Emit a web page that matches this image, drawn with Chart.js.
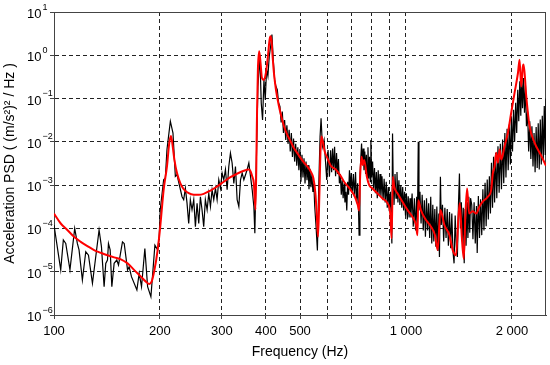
<!DOCTYPE html>
<html>
<head>
<meta charset="utf-8">
<script src="https://cdn.jsdelivr.net/npm/chart.js@4.4.1/dist/chart.umd.min.js"></script>
<style>
  body { margin: 0; background: #fff; }
  #wrap { width: 550px; height: 365px; }
</style>
</head>
<body>
<div id="wrap"><canvas id="psdChart"></canvas></div>
<script>
// measured PSD (black, noisy)
const measFreq = [
  100, 104.5, 106.3, 108, 111, 114.5, 116.5, 117.8, 120.4, 123.1, 125.3, 128.6, 134.3, 136.4, 138.8, 140.3,
  141.9, 142.8, 144.4, 146, 148.2, 150.8, 152.5, 156.5, 158.3, 161.8, 163.5, 166, 172, 174.6, 177.3, 181.2,
  184.5, 188.5, 193.5, 197, 199,
  200.4, 204.9, 207.2, 209.4, 214.1, 217.8, 221.2, 223.6, 227.6, 231.1, 233.6, 236.2, 238.8, 241.4, 244, 246.7,
  249.5, 252.2, 255, 257.8, 260.6, 263.4, 266.3, 269.2, 272.3, 275.3, 278.3, 281.3, 284.4, 287.6, 290.7, 293.9,
  297.1, 300.4, 303.7, 307, 310.4, 313.8, 317.2, 320.7, 324.3, 327.8, 331.4, 335.1, 338.8, 342.5, 346.3, 350.1,
  353.9, 357.8, 361.7, 365.7, 369.7,
  372.1, 379.6, 384.6, 388, 391.4, 394.9, 398.3, 401.8, 405.3, 408.9, 412.5, 416.1, 419.8, 423.5, 427.2, 431,
  434.8, 438.5, 441.9, 445.3, 448.7, 452.1, 455.5, 458.9, 462.3, 465.7, 469.1, 472.5, 475.9, 479.3, 482.7, 486.1,
  489.5, 492.9, 496.3, 499.7, 503.1, 506.5, 509.9, 513.3, 516.7, 520.1, 523.5, 526.9, 530.3, 533.7, 537.1, 540.5,
  543.9, 547.3, 550.6, 555.4, 560.3, 565.2, 570.2, 573.9, 579, 585.3, 590.4, 595.6, 600.8, 606.1,
  611, 615, 619, 623, 627, 631, 635, 639, 643, 647, 651, 655, 659, 663, 667, 671,
  675, 679, 683, 687, 691, 695, 699, 704, 709, 714, 719, 724, 729, 733, 736, 740,
  744, 748, 752, 756, 760, 764, 768, 772, 776, 780, 784, 788, 792, 795, 799, 804,
  809, 814, 819, 824, 829, 834, 839, 844, 849, 855, 861, 867, 873, 879, 885, 891,
  897, 903, 908, 912, 916, 920, 925, 931, 937, 943, 949, 955, 961, 967, 973, 979,
  985, 991, 997, 1003, 1009, 1015, 1021, 1027,
  1033, 1041, 1049, 1057, 1065, 1073, 1078, 1084, 1089, 1096, 1104, 1112, 1120, 1128, 1136, 1144,
  1152, 1160, 1168, 1176, 1184, 1192, 1200, 1208, 1216, 1224, 1232, 1240, 1245, 1253, 1260, 1270,
  1280, 1290, 1300, 1310, 1320, 1330, 1340, 1350, 1360, 1370, 1380, 1390, 1400, 1410, 1419, 1428,
  1437, 1446, 1455, 1464, 1473, 1482, 1491, 1500, 1509, 1518, 1526,
  1538, 1550, 1562, 1574, 1586, 1594, 1606, 1618, 1630, 1642, 1654, 1666, 1678, 1690, 1702, 1714,
  1726, 1738, 1750, 1762, 1774, 1786, 1798, 1812, 1826, 1840, 1854, 1868, 1882, 1896, 1910, 1924,
  1938, 1952, 1966, 1980, 1994, 2008, 2022, 2036, 2050, 2064, 2078, 2092, 2106, 2120, 2130, 2144,
  2158, 2172, 2186, 2200, 2216, 2232, 2248, 2264, 2280, 2296, 2312, 2328, 2344, 2360, 2376, 2392,
  2408, 2424, 2440, 2456, 2472, 2488, 2500
];
const measPsd = [
  1.2e-4, 1.1e-5, 5.4e-5, 4.5e-5, 1.1e-5, 1.0e-4, 4.5e-5, 3.2e-5, 6.4e-6, 2.9e-5, 2.4e-5, 5.4e-6, 9.2e-5, 3.8e-5, 4.5e-6, 1.56e-5,
  1.86e-5, 4.5e-5, 3.2e-5, 4.5e-6, 1.56e-5, 1.86e-5, 1.43e-5, 4.9e-5, 4.5e-5, 1.1e-5, 1.3e-5, 7.7e-6, 3.8e-6, 9.2e-6, 4.5e-6, 3.45e-5,
  4.5e-6, 2.65e-6, 4.1e-5, 3.2e-5, 6.4e-5,
  2.7e-4, 1.33e-3, 1.46e-3, 6.6e-3, 3.0e-2, 1.6e-2, 1.6e-3, 1.74e-3, 9.3e-4, 5.4e-4, 4.6e-4, 8.5e-4, 3.8e-4, 1.3e-4, 4.6e-4, 2.7e-4,
  4.6e-4, 1.1e-4, 3.8e-4, 1.3e-4, 5.4e-4, 2.7e-4, 1.1e-4, 4.6e-4, 2.7e-4, 6.5e-4, 3.2e-4, 7.8e-4, 4.6e-4, 8.5e-4, 4.6e-4, 1.33e-3,
  8.5e-4, 1.9e-3, 1.33e-3, 2.3e-3, 7.8e-4, 2.7e-3, 5.5e-3, 3.25e-3, 1.1e-3, 2.7e-3, 4.6e-4, 3.2e-4, 1.33e-3, 1.9e-3, 1.33e-3, 1.74e-3,
  2.3e-3, 3.25e-3, 1.6e-3, 7.8e-4, 3.2e-4,
  7.7e-5, 0.19, 0.95, 0.079, 0.032, 0.27, 0.094, 0.47, 0.33, 0.95, 1.6, 3.0, 0.79, 0.27, 0.19, 0.16,
  0.079, 0.066, 0.028, 0.05, 0.016, 0.032, 0.011, 0.024, 0.009, 0.019, 0.006, 0.016, 0.0045, 0.012, 0.0035, 0.009,
  0.0028, 0.0075, 0.0022, 0.0068, 0.0012, 0.005, 0.0015, 0.0042, 0.0011, 0.0035, 0.0013, 0.0029, 0.0008, 0.0024, 0.0009, 0.0018,
  0.0007, 0.0011, 3.2e-4, 1.1e-4, 3.1e-5, 9.2e-4, 0.0133, 0.035, 0.0078, 0.0111, 0.0038, 0.00132, 0.0065, 0.00157,
  6.4e-3, 2.0e-3, 7.0e-3, 2.2e-3, 7.7e-3, 1.6e-3, 5.5e-3, 1.8e-3, 4.0e-3, 1.1e-3, 1.8e-3, 6.0e-4, 1.3e-3, 5.0e-4, 1.1e-3, 4.0e-4,
  7.0e-4, 2.6e-4, 1.2e-3, 6.0e-4, 2.2e-3, 8.0e-4, 1.9e-3, 6.5e-4, 1.8e-3, 5.5e-4, 2.0e-3, 3.8e-4, 1.1e-3, 3.0e-4, 7e-5, 1.5e-3,
  4.0e-3, 9.2e-3, 3.0e-3, 7.0e-3, 2.2e-3, 6.0e-3, 1.8e-3, 5.0e-3, 1.5e-3, 7.5e-3, 1.4e-3, 4.5e-3, 1.2e-3, 1.1e-2, 1.5e-3, 3.5e-3,
  8.0e-4, 2.5e-3, 6.5e-4, 2.0e-3, 5.0e-4, 2.2e-3, 6.0e-4, 1.8e-3, 5.5e-4, 1.6e-3, 4.5e-4, 1.4e-3, 4.0e-4, 1.2e-3, 3.0e-4, 9.0e-4,
  2.5e-4, 7.0e-4, 1.5e-4, 4.5e-5, 1.56e-2, 1.2e-3, 3.5e-4, 1.8e-3, 5.0e-4, 2.0e-3, 4.0e-4, 1.3e-3, 3.5e-4, 1.0e-3, 3.0e-4, 9.0e-4,
  2.6e-4, 7.0e-4, 2.0e-4, 6.5e-4, 1.6e-4, 5.5e-4, 1.8e-4, 5.0e-4,
  1.8e-4, 6.4e-4, 1.1e-4, 5.0e-4, 9.0e-5, 5.4e-4, 1.3e-4, 1.0e-2, 2.6e-4, 7.0e-4, 1.3e-4, 6.0e-4, 9.0e-5, 4.5e-4, 6.4e-5, 5.0e-4,
  9.0e-5, 3.8e-4, 6.0e-5, 5.4e-4, 4.5e-5, 3.5e-4, 5.0e-5, 2.8e-4, 3.8e-5, 3.2e-4, 3.0e-5, 2.2e-4, 2.2e-5, 1.56e-3, 1.2e-4, 3.5e-4,
  5.0e-5, 3.0e-4, 6.0e-5, 2.8e-4, 4.0e-5, 2.4e-4, 3.5e-5, 2.2e-4, 3.0e-5, 1.56e-5, 2.0e-4, 4.0e-5, 2.2e-5, 3.5e-4, 1.86e-3, 1.0e-4,
  4.0e-4, 5.0e-5, 3.0e-4, 1.56e-5, 2.8e-4, 4.0e-5, 4.0e-4, 6.0e-5, 5.4e-4, 8.0e-5, 5.0e-4,
  3.5e-4, 5.6e-5, 4.0e-4, 4.5e-5, 3.3e-4, 2.7e-5, 5.6e-4, 6.0e-5, 4.7e-4, 7.0e-5, 8.0e-4, 9.0e-5, 1.13e-3, 1.13e-4, 1.35e-3, 1.6e-4,
  1.6e-3, 2.2e-4, 3.3e-3, 3.0e-4, 4.5e-3, 4.0e-4, 5.6e-3, 5.0e-4, 7.9e-3, 6.7e-4, 9.0e-3, 8.0e-4, 1.13e-2, 1.1e-3, 1.6e-2, 1.5e-3,
  2.0e-2, 2.2e-3, 2.5e-2, 3.0e-3, 3.9e-2, 6.0e-3, 5.5e-2, 1.0e-2, 8.0e-2, 1.6e-2, 0.16, 3.0e-2, 0.25, 4.0e-2, 0.39, 6.0e-2,
  0.3, 4.7e-2, 0.2, 2.3e-2, 5.0e-2, 6.0e-3, 3.0e-2, 4.0e-3, 2.3e-2, 2.7e-3, 1.6e-2, 2.0e-3, 2.2e-2, 2.5e-3, 2.7e-2, 2.3e-3,
  3.3e-2, 3.0e-3, 4.0e-2, 3.9e-3, 6.7e-2, 5.0e-3, 0.1
];

// model PSD (red)
const modelFreq = [
  100, 104.5, 109.1, 114, 119.1, 124.5, 130, 135.8, 141.9, 148.2, 154.9, 161.8, 169.1, 176.6, 182.4, 186.5,
  189.4, 192.9, 197, 200.4, 204.9, 209.4, 212.6, 215, 217.4, 219.8, 223.6, 228.6, 233.6, 241.4, 249.5, 257.8,
  266.3, 278.3, 290.7, 303.7, 317.2, 331.4, 346.3, 357.8, 361.7, 365.7, 369.7, 373.8, 377.2, 379.6, 382.8, 386.3,
  389.7, 394.9, 400, 405.3, 409.8, 412.5, 415.2, 417.9, 421.6, 427.2, 434.8, 442.4, 450.2, 460.2, 470.3, 480.7,
  491.4, 502.2, 513.3, 524.7, 536.3, 545.8, 553, 557.8, 562.7, 567.7, 571.5, 575.2, 580.3, 587.8, 598.2, 611.4,
  631.8, 650, 667, 697, 716, 730, 736, 741, 748, 754, 761, 774.4, 786.3, 803.6, 830.4, 858.1,
  886.7, 902.4, 910.3, 918.2, 926.3, 946.8, 978.4, 1011, 1033, 1056, 1068, 1078, 1084, 1103, 1140, 1178,
  1209, 1231, 1253, 1286, 1329, 1358, 1388, 1410, 1422, 1441, 1460, 1476, 1492, 1512, 1549, 1583,
  1618, 1654, 1709, 1747, 1766, 1786, 1805, 1825, 1845, 1865, 1906, 1948, 1991, 2035, 2081, 2103,
  2126, 2150, 2160, 2197, 2245, 2321, 2425, 2500
];
const modelPsd = [
  2.2e-4, 1.3e-4, 9.2e-5, 6.4e-5, 4.9e-5, 3.9e-5, 3.16e-5, 2.74e-5, 2.4e-5, 2.14e-5, 1.93e-5, 1.56e-5, 1.09e-5, 7.7e-6, 5.9e-6, 5.2e-6,
  5.9e-6, 1.09e-5, 3.16e-5, 1.1e-4, 7.8e-4, 2.7e-3, 9.5e-3, 1.36e-2, 7.9e-3, 3.9e-3, 1.9e-3, 1.1e-3, 8.1e-4, 6.5e-4, 6.0e-4, 6.0e-4,
  6.3e-4, 7.5e-4, 9.3e-4, 1.2e-3, 1.53e-3, 1.84e-3, 2.15e-3, 2.3e-3, 2.1e-3, 1.6e-3, 1.1e-3, 2.7e-4, 3.2e-2, 0.47, 1.24, 0.66,
  0.3, 0.27, 0.39, 0.95, 2.3, 2.75, 2.1, 0.95, 0.39, 0.16, 0.072, 0.039, 0.023, 0.0145, 0.0102, 0.0071,
  0.0055, 0.0042, 0.0033, 0.0027, 0.00206, 0.00144, 6.5e-4, 2.2e-4, 6.4e-5, 6.5e-4, 0.0055, 0.0133, 0.0102, 0.006, 0.0042, 0.0028,
  2.3e-3, 1.7e-3, 1.2e-3, 7.7e-4, 5.4e-4, 3.45e-4, 2.6e-4, 1.56e-3, 4.5e-3, 2.9e-3, 3.8e-3, 1.56e-3, 1.0e-3, 8.4e-4, 6.4e-4, 4.9e-4,
  3.8e-4, 2.2e-4, 5.9e-5, 1.56e-3, 9.2e-4, 6.4e-4, 4.1e-4, 2.65e-4, 2.1e-4, 1.56e-4, 1.2e-4, 7e-5, 4.5e-4, 2.65e-4, 1.56e-4, 1.1e-4,
  7e-5, 3.16e-5, 2.65e-4, 1.2e-4, 7e-5, 3.16e-5, 2.4e-5, 1.86e-4, 3.8e-4, 6.4e-5, 2.0e-5, 2.2e-4, 8.4e-4, 2.2e-4, 2.5e-4, 2.2e-4,
  3.2e-4, 4.2e-4, 5.4e-4, 7.9e-4, 1.9e-3, 2.7e-3, 5.6e-3, 3.3e-3, 6.7e-3, 3.9e-3, 7.9e-3, 1.6e-2, 4.7e-2, 0.135, 0.39, 0.79,
  0.19, 0.56, 0.61, 0.113, 0.023, 9.5e-3, 4.7e-3, 2.8e-3
];

const xTicks = [100, 200, 300, 400, 500, 600, 700, 800, 900, 1000, 2000];
const xTickLabels = ['100', '200', '300', '400', '500', '', '', '', '', '1 000', '2 000'];
const yTicks = [1e-6, 1e-5, 1e-4, 1e-3, 1e-2, 1e-1, 1, 10];

const FONT = '"Liberation Sans", Arial, Helvetica, sans-serif';

// y labels as 10 with a raised exponent, and the closed frame
const decadeLabels = {
  id: 'decadeLabels',
  beforeDatasetsDraw(chart) {
    const a = chart.chartArea, ctx = chart.ctx;
    ctx.save();
    ctx.strokeStyle = '#444';
    ctx.lineWidth = 1;
    ctx.strokeRect(Math.round(a.left) + 0.5, Math.round(a.top) + 0.5,
      Math.round(a.right - a.left) - 1, Math.round(a.bottom - a.top));
    ctx.restore();
  },
  afterDraw(chart) {
    const ctx = chart.ctx, ys = chart.scales.y;
    const xr = ys.right - 12.5;
    ctx.save();
    ctx.fillStyle = '#000';
    ctx.textBaseline = 'alphabetic';
    yTicks.forEach(v => {
      const py = ys.getPixelForValue(v);
      const e = Math.round(Math.log10(v));
      ctx.font = '13px ' + FONT;
      ctx.textAlign = 'right';
      ctx.fillText('10', xr, py + 6);
      ctx.font = '9px ' + FONT;
      ctx.textAlign = 'left';
      ctx.fillText(e < 0 ? '\u2212' + (-e) : String(e), xr + 1, py - 2.5);
    });
    ctx.restore();
  }
};

const psdChart = new Chart(document.getElementById('psdChart'), {
  type: 'line',
  data: {
    datasets: [{
      label: 'model',
      data: modelFreq.map((f, i) => ({x: f, y: modelPsd[i]})),
      borderColor: '#ff0000',
      borderWidth: 2,
      pointRadius: 0,
      cubicInterpolationMode: 'monotone'
    }, {
      label: 'measured',
      data: measFreq.map((f, i) => ({x: f, y: measPsd[i]})),
      borderColor: '#000',
      borderWidth: 1.2,
      pointRadius: 0,
      tension: 0
    }]
  },
  options: {
    responsive: true,
    maintainAspectRatio: false,
    animation: false,
    layout: { padding: { top: 12, right: 4, left: 0, bottom: 0 } },
    plugins: {
      legend: { display: false },
      tooltip: { enabled: false }
    },
    scales: {
      x: {
        type: 'logarithmic',
        min: 100,
        max: 2500,
        afterBuildTicks: s => { s.ticks = xTicks.map(v => ({value: v})); },
        afterFit: s => { s.height = 50; },
        ticks: {
          autoSkip: false,
          maxRotation: 0,
          padding: 5,
          color: '#000',
          font: { family: FONT, size: 13 },
          callback: (v, i) => xTickLabels[i]
        },
        grid: { color: '#222', lineWidth: 1, tickColor: '#444', tickLength: 4 },
        border: { display: true, color: '#444', width: 1, dash: [4, 3] },
        title: {
          display: true,
          text: 'Frequency (Hz)',
          color: '#000',
          font: { family: FONT, size: 14 },
          padding: { top: 4, bottom: 4 }
        }
      },
      y: {
        type: 'logarithmic',
        min: 1e-6,
        max: 10,
        afterBuildTicks: s => { s.ticks = yTicks.map(v => ({value: v})); },
        afterFit: s => { s.width = 54; },
        ticks: { display: false },
        grid: { color: '#222', lineWidth: 1, tickColor: '#444', tickLength: 4 },
        border: { display: true, color: '#444', width: 1, dash: [4, 3] },
        title: {
          display: true,
          text: 'Acceleration PSD ( (m/s\u00b2)\u00b2 / Hz )',
          color: '#000',
          font: { family: FONT, size: 14 },
          padding: { top: 2, bottom: 0 }
        }
      }
    }
  },
  plugins: [decadeLabels]
});
</script>
</body>
</html>
